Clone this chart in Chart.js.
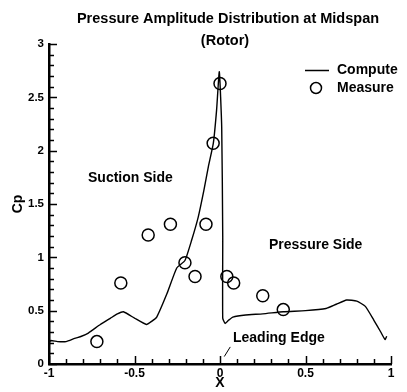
<!DOCTYPE html>
<html>
<head>
<meta charset="utf-8">
<script src="https://cdn.jsdelivr.net/npm/chart.js@4"></script>
<style>
  html, body { margin: 0; padding: 0; background: #fff; }
  #wrap { width: 407px; height: 392px; }
</style>
</head>
<body>
<div id="wrap"><canvas id="canvas"></canvas></div>
<script>
// computed Cp along the blade (x from -1 suction TE through LE to +1)
var computeX = [-1, -0.99, -0.95, -0.9, -0.85, -0.81, -0.77, -0.7, -0.64, -0.6, -0.565, -0.5, -0.43, -0.4, -0.37, -0.31, -0.253, -0.205, -0.166, -0.127, -0.094, -0.068, -0.039, -0.02, -0.004, 0.01, 0.016, 0.016, 0.03, 0.05, 0.075, 0.15, 0.25, 0.37, 0.5, 0.62, 0.68, 0.74, 0.8, 0.85, 0.9, 0.94, 0.965, 0.975];
var computeY = [0.2, 0.22, 0.21, 0.21, 0.24, 0.26, 0.29, 0.37, 0.43, 0.47, 0.49, 0.43, 0.37, 0.4, 0.44, 0.66, 0.9, 0.97, 1.16, 1.38, 1.63, 1.85, 2.07, 2.38, 2.74, 2.22, 1.2, 0.43, 0.38, 0.41, 0.44, 0.46, 0.47, 0.49, 0.5, 0.52, 0.56, 0.6, 0.59, 0.54, 0.41, 0.3, 0.23, 0.26];
// measured Cp
var measureX = [-0.72, -0.58, -0.42, -0.29, -0.205, -0.146, -0.082, -0.04, 0.0, 0.04, 0.08, 0.25, 0.37];
var measureY = [0.21, 0.76, 1.21, 1.31, 0.95, 0.82, 1.31, 2.07, 2.63, 0.82, 0.76, 0.64, 0.51];
var xTickLabels = ['-1', '-0.5', '0', '0.5', '1'];
var yTickLabels = ['0', '0.5', '1', '1.5', '2', '2.5', '3'];

var FONT = '"Liberation Sans", Arial, Helvetica, sans-serif';

function isMajor(v) {
  return Math.abs(v * 2 - Math.round(v * 2)) < 1e-6;
}

// inward tick marks + text overlays
var extras = {
  id: 'extras',
  afterDraw: function(chart) {
    var c = chart.ctx;
    var xs = chart.scales.x, ys = chart.scales.y;
    var a = chart.chartArea;
    c.save();
    c.strokeStyle = '#000';
    c.lineWidth = 1.5;
    xs.ticks.forEach(function(t) {
      var px = Math.round(xs.getPixelForValue(t.value)) + 0.5;
      var len = isMajor(t.value) ? 8 : 5;
      c.beginPath(); c.moveTo(px, a.bottom); c.lineTo(px, a.bottom - len); c.stroke();
    });
    ys.ticks.forEach(function(t) {
      var py = Math.round(ys.getPixelForValue(t.value)) + 0.5;
      var len = isMajor(t.value) ? 8 : 5;
      c.beginPath(); c.moveTo(a.left, py); c.lineTo(a.left + len, py); c.stroke();
    });

    c.fillStyle = '#000';
    c.textBaseline = 'middle';
    // title
    c.textAlign = 'center';
    c.font = 'bold 14.5px ' + FONT;
    c.fillText('Pressure Amplitude Distribution at Midspan', 228, 19);
    c.fillText('(Rotor)', 225, 41);

    // legend
    c.textAlign = 'left';
    c.font = 'bold 14px ' + FONT;
    c.lineWidth = 1.5;
    c.beginPath(); c.moveTo(305, 70.5); c.lineTo(329, 70.5); c.stroke();
    c.fillText('Compute', 337, 70);
    c.beginPath(); c.arc(316, 88, 5.5, 0, Math.PI * 2); c.stroke();
    c.fillText('Measure', 337, 88);

    // annotations
    c.font = 'bold 14px ' + FONT;
    c.fillText('Suction Side', 88, 178);
    c.fillText('Pressure Side', 269, 245);
    c.fillText('Leading Edge', 233, 338);
    c.lineWidth = 1;
    c.beginPath();
    c.moveTo(xs.getPixelForValue(0.025), ys.getPixelForValue(0.07));
    c.lineTo(xs.getPixelForValue(0.06), ys.getPixelForValue(0.16));
    c.stroke();
    c.restore();
  }
};

var ctx = document.getElementById('canvas');
new Chart(ctx, {
  type: 'scatter',
  data: {
    datasets: [{
      label: 'Compute',
      data: computeX.map(function(x, i) { return { x: x, y: computeY[i] }; }),
      showLine: true,
      borderColor: '#000',
      borderWidth: 1.4,
      pointRadius: 0,
      tension: 0.15
    },
    {
      label: 'Measure',
      data: measureX.map(function(x, i) { return { x: x, y: measureY[i] }; }),
      showLine: false,
      pointStyle: 'circle',
      pointRadius: 6,
      borderColor: '#000',
      borderWidth: 1.5,
      backgroundColor: 'rgba(0,0,0,0)'
    }]
  },
  options: {
    responsive: true,
    maintainAspectRatio: false,
    animation: false,
    layout: {
      padding: { top: 44, right: 16, left: 0, bottom: 0 }
    },
    plugins: {
      legend: { display: false },
      title: { display: false },
      tooltip: { enabled: false }
    },
    scales: {
      x: {
        type: 'linear',
        min: -1,
        max: 1,
        afterFit: function(s) { s.height = 28; },
        border: { display: true, color: '#000', width: 2.5 },
        grid: { display: false, drawTicks: false },
        ticks: {
          stepSize: 0.1,
          autoSkip: false,
          maxRotation: 0,
          padding: 2,
          color: '#000',
          font: { family: FONT, size: 12, weight: 'bold' },
          callback: function(v) { return isMajor(v) ? xTickLabels[Math.round((v + 1) * 2)] : ''; }
        },
        title: {
          display: true,
          text: 'X',
          color: '#000',
          padding: { top: -4, bottom: 0 },
          font: { family: FONT, size: 14, weight: 'bold' }
        }
      },
      y: {
        type: 'linear',
        min: 0,
        max: 3,
        afterFit: function(s) { s.width = 49; },
        border: { display: true, color: '#000', width: 2.5 },
        grid: { display: false, drawTicks: false },
        ticks: {
          stepSize: 0.1,
          autoSkip: false,
          padding: 5,
          color: '#000',
          font: { family: FONT, size: 11.5, weight: 'bold' },
          callback: function(v) { return isMajor(v) ? yTickLabels[Math.round(v * 2)] : ''; }
        },
        title: {
          display: true,
          text: 'Cp',
          color: '#000',
          padding: { top: 10, bottom: 0 },
          font: { family: FONT, size: 14, weight: 'bold' }
        }
      }
    }
  },
  plugins: [extras]
});
</script>
</body>
</html>
